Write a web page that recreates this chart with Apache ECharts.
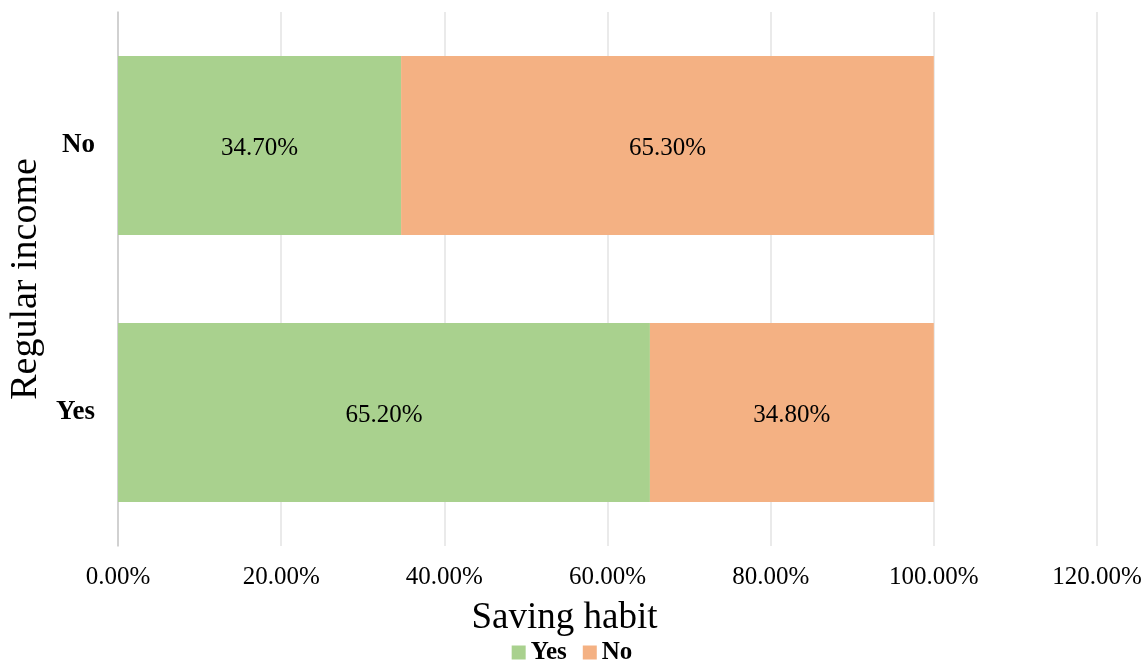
<!DOCTYPE html>
<html>
<head>
<meta charset="utf-8">
<script src="https://cdn.jsdelivr.net/npm/echarts@6/dist/echarts.min.js"></script>
<style>
  html, body { margin: 0; padding: 0; background: #fff; }
  #main { width: 1144px; height: 664px; }
</style>
</head>
<body>
<div id="main"></div>
<script>
var categories = ['Yes', 'No'];
var yesValues = [65.2, 34.7];
var noValues = [34.8, 65.3];
var xTicks = [0, 20, 40, 60, 80, 100, 120];

var font = '"Liberation Serif", "Times New Roman", serif';

var labelOpt = {
    show: true,
    position: 'inside',
    fontFamily: font,
    fontSize: 25,
    color: '#000',
    offset: [0, 3],
    formatter: function(p) { return p.value.toFixed(2) + '%'; }
};

var myChart = echarts.init(document.getElementById('main'));
myChart.setOption({
    animation: false,
    textStyle: { fontFamily: font },
    grid: { left: 118, right: 47, top: 12, bottom: 118, containLabel: false, outerBoundsMode: 'none' },
    legend: {
        bottom: -6,
        left: 'center',
        itemWidth: 14,
        itemHeight: 14,
        itemGap: 16,
        icon: 'rect',
        textStyle: { fontFamily: font, fontSize: 25, fontWeight: 'bold', color: '#000' },
        data: ['Yes', 'No']
    },
    xAxis: {
        type: 'value',
        min: xTicks[0],
        max: xTicks[xTicks.length - 1],
        interval: 20,
        name: 'Saving habit',
        nameLocation: 'middle',
        nameGap: 54,
        nameTextStyle: { fontFamily: font, fontSize: 37, color: '#000', padding: [0, 86, 0, 0] },
        axisLine: { show: false },
        axisTick: { show: false },
        axisLabel: {
            fontFamily: font, fontSize: 25, color: '#000', margin: 19,
            formatter: function(v) { return v.toFixed(2) + '%'; }
        },
        splitLine: { show: true, lineStyle: { color: '#e3e3e3', width: 1.5 } }
    },
    yAxis: {
        type: 'category',
        data: categories,
        name: 'Regular income',
        nameLocation: 'middle',
        nameGap: 68,
        nameRotate: 90,
        nameTextStyle: { fontFamily: font, fontSize: 38, color: '#000' },
        axisLine: { show: true, lineStyle: { color: '#c8c8c8', width: 1.5 } },
        axisTick: { show: false },
        axisLabel: { fontFamily: font, fontSize: 27, fontWeight: 'bold', color: '#000', margin: 23 }
    },
    series: [{
        name: 'Yes',
        type: 'bar',
        stack: 'total',
        barCategoryGap: '33%',
        data: yesValues,
        itemStyle: { color: '#a9d18e' },
        label: labelOpt
    }, {
        name: 'No',
        type: 'bar',
        stack: 'total',
        barCategoryGap: '33%',
        data: noValues,
        itemStyle: { color: '#f4b183' },
        label: labelOpt
    }]
});
</script>
</body>
</html>
